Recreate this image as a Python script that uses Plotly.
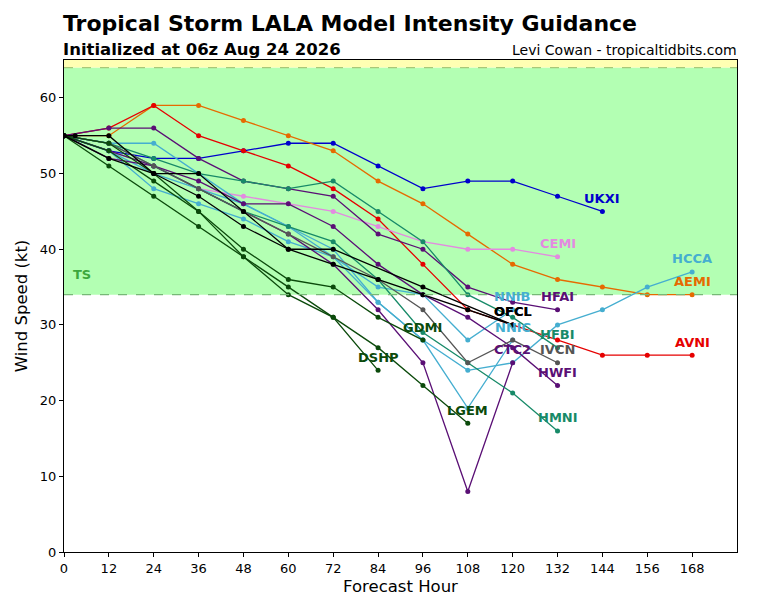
import plotly.graph_objects as go

# forecast hours
h12 = [0, 12, 24, 36, 48, 60, 72, 84, 96, 108, 120, 132, 144, 156, 168]
ofcl_hours = [0, 3, 12, 24, 36, 48, 60, 72, 96, 120]

# intensity (kt) per model
ukxi = [55, 53, 52, 52, 53, 54, 54, 51, 48, 49, 49, 47, 45]
aemi = [55, 55, 59, 59, 57, 55, 53, 49, 46, 42, 38, 36, 35, 34, 34]
avni = [55, 56, 59, 55, 53, 51, 48, 44, 38, 32, 30, 28, 26, 26, 26]
cemi = [55, 54, 51, 48, 47, 46, 45, 43, 41, 40, 40, 39]
hcca = [55, 54, 54, 50, 46, 43, 40, 33, 28, 24, 25, 30, 32, 35, 37]
nnib = [55, 53, 50, 48, 46, 43, 39, 35, 34, 28, 32]
nnic = [55, 53, 48, 46, 44, 41, 39, 33, 28, 19, 28]
hfai = [55, 56, 56, 52, 49, 48, 47, 42, 40, 35, 33, 32]
hwfi = [55, 52, 51, 49, 46, 46, 43, 38, 34, 31, 27, 22]
ctc2 = [55, 53, 51, 48, 45, 42, 38, 32, 25, 8, 25]
hfbi = [55, 54, 52, 50, 49, 48, 49, 45, 41, 34, 31, 27]
hmni = [55, 54, 51, 48, 45, 43, 41, 36, 29, 25, 21, 16]
ivcn = [55, 54, 51, 48, 45, 42, 39, 36, 32, 25, 28, 25]
gdmi = [55, 54, 50, 45, 40, 36, 35, 31, 28]
dshp = [55, 53, 49, 45, 39, 34, 31, 24]
lgem = [55, 51, 47, 43, 39, 35, 31, 27, 22, 17]
ofci = [55, 52, 50, 47, 43, 40, 38, 36, 34, 32, 30]
ofcl = [55, 55, 55, 50, 50, 45, 40, 40, 35, 30]

BLUE = "#0000cc"
ORANGE = "#e66a00"
RED = "#e60000"
PINK = "#e38ae0"
LBLUE = "#45aed0"
PURPLE = "#5a0f75"
TEAL = "#178a68"
GREY = "#555555"
DGREEN = "#0b4a0b"
BLACK = "#000000"

models = [
    ("UKXI", h12, ukxi, BLUE),
    ("AEMI", h12, aemi, ORANGE),
    ("AVNI", h12, avni, RED),
    ("CEMI", h12, cemi, PINK),
    ("HCCA", h12, hcca, LBLUE),
    ("NNIB", h12, nnib, LBLUE),
    ("NNIC", h12, nnic, LBLUE),
    ("HFAI", h12, hfai, PURPLE),
    ("HWFI", h12, hwfi, PURPLE),
    ("CTC2", h12, ctc2, PURPLE),
    ("HFBI", h12, hfbi, TEAL),
    ("HMNI", h12, hmni, TEAL),
    ("IVCN", h12, ivcn, GREY),
    ("GDMI", h12, gdmi, DGREEN),
    ("DSHP", h12, dshp, DGREEN),
    ("LGEM", h12, lgem, DGREEN),
    ("OFCI", h12, ofci, BLACK),
    ("OFCL", ofcl_hours, ofcl, BLACK),
]

fig = go.Figure()

# TS band and the band above 64 kt
fig.add_hrect(y0=34, y1=64, fillcolor="#b3ffb3", line_width=0, layer="below")
fig.add_hrect(y0=64, y1=65, fillcolor="#ffffb3", line_width=0, layer="below")
fig.add_hline(y=34, line=dict(color="#77b877", width=1.2, dash="dash"))
fig.add_hline(y=64, line=dict(color="#a8c878", width=1.2, dash="dash"))

for name, hrs, vals, col in models:
    hrs = hrs[:len(vals)]
    fig.add_trace(go.Scatter(x=hrs, y=vals, mode="lines+markers", name=name,
                             line=dict(color=col, width=1.3),
                             marker=dict(color=col, size=5)))
    # OFCI label sits almost on top of OFCL, as in the original
    fig.add_annotation(x=hrs[-1], y=vals[-1], text="<b>%s</b>" % name,
                       showarrow=False, yshift=13, xshift=-2 if name == "OFCI" else 0,
                       font=dict(color=col, size=13, family="DejaVu Sans"))

fig.add_annotation(x=2, y=36.6, text="<b>TS</b>", showarrow=False, xanchor="left",
                   font=dict(color="#3da83d", size=13, family="DejaVu Sans"))

fig.add_annotation(x=0, y=1.045, xref="paper", yref="paper", xanchor="left", yanchor="bottom",
                   xshift=-3, text="<b>Tropical Storm LALA Model Intensity Guidance</b>",
                   showarrow=False, font=dict(size=22, color="black", family="DejaVu Sans"))
fig.add_annotation(x=0, y=0.998, xref="paper", yref="paper", xanchor="left", yanchor="bottom",
                   xshift=-3, text="<b>Initialized at 06z Aug 24 2026</b>", showarrow=False,
                   font=dict(size=16.5, color="black", family="DejaVu Sans"))
fig.add_annotation(x=1, y=1.0, xref="paper", yref="paper", xanchor="right", yanchor="bottom",
                   xshift=2, text="Levi Cowan - tropicaltidbits.com", showarrow=False,
                   font=dict(size=14, color="black", family="DejaVu Sans"))

# margins allow for the 8px page margin round the figure
fig.update_layout(
    width=768, height=600,
    margin=dict(l=53, r=39, t=52, b=56),
    plot_bgcolor="white", paper_bgcolor="white",
    showlegend=False,
    font=dict(family="DejaVu Sans", size=13, color="black"),
)
fig.update_xaxes(range=[0, 180], tickvals=list(range(0, 169, 12)), showgrid=False,
                 zeroline=False, showline=True, linecolor="black", linewidth=1, mirror=True,
                 ticks="outside", ticklen=4, tickcolor="black",
                 title=dict(text="Forecast Hour", font=dict(size=16.5), standoff=5))
fig.update_yaxes(range=[0, 65], tickvals=list(range(0, 61, 10)), showgrid=False,
                 zeroline=False, showline=True, linecolor="black", linewidth=1, mirror=True,
                 ticks="outside", ticklen=4, tickcolor="black",
                 title=dict(text="Wind Speed (kt)", font=dict(size=16.5), standoff=8))

fig.write_html("out.html")
